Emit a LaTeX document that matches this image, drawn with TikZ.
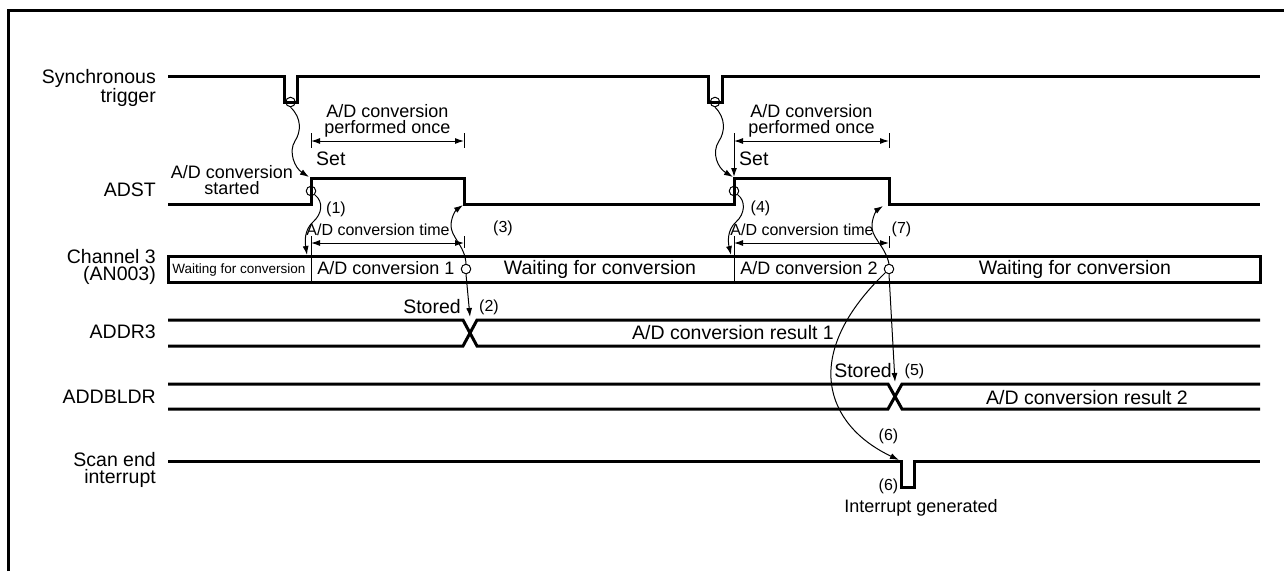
\documentclass[tikz,border=0pt]{standalone}
\usepackage{fontspec}
\setmainfont{Liberation Sans}
\usetikzlibrary{arrows.meta}
\newcommand{\fbig}{\fontsize{19.5}{17}\selectfont}
\newcommand{\fmid}{\fontsize{18}{16}\selectfont}
\newcommand{\fsml}{\fontsize{16}{16}\selectfont}
\newcommand{\ftny}{\fontsize{13.5}{14}\selectfont}
\tikzset{
  frm/.style={line width=3pt},
  sig/.style={line width=3pt},
  thn/.style={line width=1pt},
  dimln/.style={{Latex[length=9pt,width=6pt]}-{Latex[length=9pt,width=6pt]},line width=1pt},
  wav/.style={-{Latex[length=9pt,width=6pt]},line width=1pt},
  opn/.style={circle,draw,minimum size=9.5pt,inner sep=0pt,line width=1pt},
  sname/.style={anchor=east,align=right,inner sep=0pt,font=\fbig},
  txt/.style={inner sep=0pt,anchor=base},
}

\begin{document}
\begin{tikzpicture}[x=1pt,y=-1pt]
  \useasboundingbox (0,0) rectangle (1284,571);
  % outer frame, cut by the page edge
  \draw[frm] (8,571) -- (8,10) -- (1284,10);

  % signal names
  \node[sname] (lsync) at (156,87.7) {Synchronous\\trigger};
  \node[sname,anchor=base east] (ladst) at (156,196) {ADST};
  \node[sname] (lch3) at (156,266.8) {Channel 3\\(AN003)};
  \node[sname,anchor=base east] (laddr) at (156,338.7) {ADDR3};
  \node[sname,anchor=base east] (lbldr) at (156,403.3) {ADDBLDR};
  \node[sname] (lscan) at (156,470) {Scan end\\interrupt};

  % synchronous trigger
  \draw[sig] (168,76) -- (284,76) -- (284,102) -- (297,102) -- (297,76)
    -- (708,76) -- (708,102) -- (722,102) -- (722,76) -- (1260,76);
  \node[opn] (trg1) at (290.5,102) {};
  \node[opn] (trg2) at (715,102) {};

  % ADST
  \draw[sig] (168,204) -- (311,204) -- (311,178) -- (464,178) -- (464,204)
    -- (734,204) -- (734,178) -- (889,178) -- (889,204) -- (1260,204);
  \node[opn] (st1) at (311,191) {};
  \node[opn] (st2) at (734,191) {};
  \node[font=\fmid,align=center,inner sep=0pt] (strt) at (232,180) {A/D conversion\\started};
  \coordinate (rise1) at (309,177);
  \coordinate (rise2) at (733,177);
  \coordinate (fall1) at (463,205);
  \coordinate (fall2) at (883,206);
  \coordinate (adst2up) at (734,177);

  % channel 3
  \draw[sig] (168,256) rectangle (1260,282);
  \node[opn] (cv1e) at (466,269) {};
  \node[opn] (cv2e) at (889,269) {};
  \node[txt,font=\ftny] (wt0) at (239,273) {Waiting for conversion};
  \node[txt,font=\fmid] (cv1) at (386,274) {A/D conversion 1};
  \node[txt,font=\fbig] (wt1) at (600,274) {Waiting for conversion};
  \node[txt,font=\fmid] (cv2) at (809,274) {A/D conversion 2};
  \node[txt,font=\fbig] (wt2) at (1075,274) {Waiting for conversion};
  \coordinate (cin1) at (307,255);
  \coordinate (cin2) at (731,255);

  % the two conversions
  \foreach \a/\b/\n in {311/464/1,734/889/2}{
    \draw[thn] (\a,133) -- (\a,148);
    \draw[thn] (\b,133) -- (\b,148);
    \coordinate (pl\n) at (\a,141);
    \coordinate (pr\n) at (\b,141);
    \draw[dimln] (pl\n) -- (pr\n);
    \node[font=\fmid,align=center,inner sep=0pt] (once\n) at ({(\a+\b)/2},121.3) {A/D conversion\\performed once};
    \node[txt,anchor=base west,font=\fbig] (set\n) at (\a+5,165) {Set};
    % conversion time
    \draw[thn] (\a,236) -- (\a,282);
    \draw[thn] (\b,236) -- (\b,248);
    \coordinate (tl\n) at (\a,243);
    \coordinate (tr\n) at (\b,243);
    \draw[dimln] (tl\n) -- (tr\n);
    \node[txt,font=\fsml] (ctime\n) at ({(\a+\b)/2-9.5},235) {A/D conversion time};
  }
  \draw[wav] (pl2) -- (adst2up);

  % ADDR3 and ADDBLDR
  \draw[sig] (168,320) -- (463,320) -- (477,346) -- (1260,346);
  \draw[sig] (168,346) -- (463,346) -- (477,320) -- (1260,320);
  \draw[sig] (168,384) -- (888,384) -- (902,409) -- (1260,409);
  \draw[sig] (168,409) -- (888,409) -- (902,384) -- (1260,384);
  \node[txt,font=\fbig] (res1) at (733,339) {A/D conversion result 1};
  \node[txt,font=\fbig] (res2) at (1087,404) {A/D conversion result 2};
  \node[txt,font=\fbig] (sto1) at (432,313) {Stored};
  \node[txt,font=\fbig] (sto2) at (863,377) {Stored};
  \coordinate (x1) at (470,317);
  \coordinate (x2) at (895,382);

  % scan end interrupt
  \draw[sig] (168,461) -- (901,461) -- (901,487) -- (914,487) -- (914,461) -- (1260,461);
  \coordinate (irq) at (899,460);
  \node[txt,font=\fmid] (intg) at (921,512) {Interrupt generated};

  % step numbers
  \node[txt,font=\fsml] (n1) at (336,213) {(1)};
  \node[txt,font=\fsml] (n2) at (489,311) {(2)};
  \node[txt,font=\fsml] (n3) at (503,232) {(3)};
  \node[txt,font=\fsml] (n4) at (760.5,212) {(4)};
  \node[txt,font=\fsml] (n5) at (914.5,375) {(5)};
  \node[txt,font=\fsml] (n6a) at (888.5,440) {(6)};
  \node[txt,font=\fsml] (n6b) at (888.5,490) {(6)};
  \node[txt,font=\fsml] (n7) at (901.5,233) {(7)};

  % trigger -> ADST set
  \draw[wav] (trg1.south) .. controls (302,118) and (301,132) .. (295,141)
    .. controls (288,152) and (295,168) .. (rise1);
  \draw[wav] (trg2.south) .. controls (726,118) and (725,132) .. (719,141)
    .. controls (711,153) and (718,168) .. (rise2);
  % ADST -> conversion start
  \draw[wav] (st1.south east) .. controls (324,202) and (322,214) .. (313,222)
    .. controls (304,230) and (305,242) .. (cin1);
  \draw[wav] (st2.south east) .. controls (746,201) and (745,214) .. (736,222)
    .. controls (727,230) and (728,242) .. (cin2);
  % conversion end -> ADST cleared
  \draw[wav] (cv1e.north) .. controls (465,245) and (450,237) .. (451,224)
    .. controls (452,215) and (456,210) .. (fall1);
  \draw[wav] (cv2e.north) .. controls (885,245) and (870,237) .. (872,224)
    .. controls (873,215) and (877,210) .. (fall2);
  % results stored
  \draw[wav] (cv1e.south) -- (x1);
  \draw[wav] (cv2e.south) -- (x2);
  \draw[wav] (cv2e.south west) .. controls (800,355) and (825,425) .. (irq);
\end{tikzpicture}
\end{document}
